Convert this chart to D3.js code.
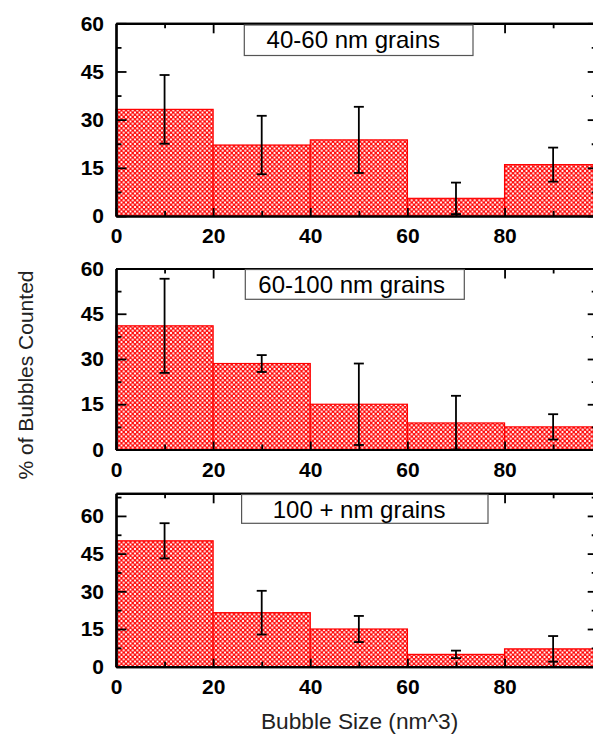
<!DOCTYPE html>
<html>
<head>
<meta charset="utf-8">
<script src="https://cdn.jsdelivr.net/npm/d3@7"></script>
<style>
  html, body { margin: 0; padding: 0; background: #fff; }
  svg { display: block; }
  text { font-family: "Liberation Sans", Arial, sans-serif; }
</style>
</head>
<body>
<svg id="chart" width="593" height="739"></svg>
<script>
// ---------- data ----------
const binEdges = [0, 20, 40, 60, 80, 100];
const panelLabels = ["40-60 nm grains", "60-100 nm grains", "100 + nm grains"];
const values4060  = [33.2, 22.1, 23.7, 5.5, 16.0];
const errors4060  = [10.7, 9.1, 10.3, 4.9, 5.3];
const values60100 = [41.0, 28.5, 15.0, 8.8, 7.5];
const errors60100 = [15.6, 2.8, 13.5, 9.0, 4.2];
const values100p  = [50.1, 21.5, 15.0, 4.9, 7.1];
const errors100p  = [7.0, 8.7, 5.2, 1.5, 5.1];
const yMaxes = [60, 60, 69];
const yMajorTicks = [0, 15, 30, 45, 60];
const xMajorTicks = [0, 20, 40, 60, 80];
const xTitle = "Bubble Size (nm^3)";
const yTitle = "% of Bubbles Counted";

// ---------- layout ----------
const xLeft = 116, xRight = 601.7;
const panelsLayout = [
  { top: 23.3, bottom: 216,   box: [244.3, 25, 473, 55.5],  textX: 266.6 },
  { top: 268.5, bottom: 449.5, box: [245.3, 269.5, 464.3, 299.3], textX: 258.3 },
  { top: 493.3, bottom: 666.7, box: [241.6, 494.5, 488, 523.3], textX: 272.7 }
];
const seriesValues = [values4060, values60100, values100p];
const seriesErrors = [errors4060, errors60100, errors100p];

const svg = d3.select("#chart");
svg.append("rect").attr("width", 593).attr("height", 739).attr("fill", "#fff");

// hatch pattern (red crosshatch leaving white dots)
const T = 4.5;
const defs = svg.append("defs");
const pat = defs.append("pattern").attr("id", "hatch")
  .attr("width", T).attr("height", T).attr("patternUnits", "userSpaceOnUse");
pat.append("rect").attr("width", T).attr("height", T).attr("fill", "#ff0000");
[[0,0],[T,0],[0,T],[T,T],[T/2,T/2]].forEach(([cx, cy]) =>
  pat.append("circle").attr("cx", cx).attr("cy", cy).attr("r", 1.1).attr("fill", "#fff"));

const x = d3.scaleLinear().domain([0, 100]).range([xLeft, xRight]);

function minorTicks(max, step, start) {
  const out = [];
  for (let v = start; v < max - 0.01; v += step) out.push(v);
  return out;
}

panelsLayout.forEach((L, i) => {
  const y = d3.scaleLinear().domain([0, yMaxes[i]]).range([L.bottom, L.top]);
  const g = svg.append("g");
  const vals = seriesValues[i], errs = seriesErrors[i];
  const bins = vals.map((v, k) => ({ x0: binEdges[k], x1: binEdges[k + 1], v, e: errs[k] }));

  // bars
  g.selectAll("rect.bar").data(bins).join("rect")
    .attr("class", "bar")
    .attr("x", d => x(d.x0))
    .attr("y", d => y(d.v))
    .attr("width", d => x(d.x1) - x(d.x0))
    .attr("height", d => y(0) - y(d.v))
    .attr("fill", "url(#hatch)")
    .attr("stroke", "#ff0000")
    .attr("stroke-width", 1.2);

  // error bars
  const eb = g.selectAll("g.err").data(bins).join("g").attr("class", "err")
    .attr("stroke", "#000").attr("stroke-width", 1.8);
  const lo = d => y(Math.max(0, d.v - d.e));
  const hi = d => y(d.v + d.e);
  const cx = d => x((d.x0 + d.x1) / 2);
  eb.append("line").attr("x1", cx).attr("x2", cx).attr("y1", lo).attr("y2", hi);
  eb.append("line").attr("x1", d => cx(d) - 5).attr("x2", d => cx(d) + 5).attr("y1", hi).attr("y2", hi);
  eb.append("line").attr("x1", d => cx(d) - 5).attr("x2", d => cx(d) + 5).attr("y1", lo).attr("y2", lo);

  const styleAxis = sel => {
    sel.selectAll("path.domain").attr("stroke", "#000").attr("stroke-width", 2.2);
    sel.selectAll(".tick line").attr("stroke", "#000").attr("stroke-width", 1.8);
    sel.selectAll("text").attr("font-size", 21).attr("font-weight", "bold").attr("fill", "#000")
      .attr("font-family", "'Liberation Sans', Arial, sans-serif");
  };

  const yMinor = minorTicks(yMaxes[i], 15, 7.5);
  const xMinor = [10, 30, 50, 70, 90];

  // left axis
  g.append("g").attr("transform", `translate(${xLeft},0)`)
    .call(d3.axisLeft(y).tickValues(yMinor).tickSizeInner(-5.5).tickSizeOuter(0).tickFormat(""))
    .call(styleAxis);
  g.append("g").attr("transform", `translate(${xLeft},0)`)
    .call(d3.axisLeft(y).tickValues(yMajorTicks).tickSizeInner(-10.5).tickSizeOuter(0).tickPadding(12))
    .call(styleAxis);

  // right axis (inward ticks)
  g.append("g").attr("transform", `translate(${xRight},0)`)
    .call(d3.axisRight(y).tickValues(yMinor).tickSizeInner(-10).tickSizeOuter(0).tickFormat(""))
    .call(styleAxis);
  g.append("g").attr("transform", `translate(${xRight},0)`)
    .call(d3.axisRight(y).tickValues(yMajorTicks).tickSizeInner(-14).tickSizeOuter(0).tickFormat(""))
    .call(styleAxis);

  // top axis
  g.append("g").attr("transform", `translate(0,${L.top})`)
    .call(d3.axisTop(x).tickValues(xMinor).tickSizeInner(-5).tickSizeOuter(0).tickFormat(""))
    .call(styleAxis);
  g.append("g").attr("transform", `translate(0,${L.top})`)
    .call(d3.axisTop(x).tickValues([20, 40, 60, 80]).tickSizeInner(-10).tickSizeOuter(0).tickFormat(""))
    .call(styleAxis);

  // bottom axis
  g.append("g").attr("transform", `translate(0,${L.bottom})`)
    .call(d3.axisBottom(x).tickValues(xMinor).tickSizeInner(-5).tickSizeOuter(0).tickFormat(""))
    .call(styleAxis);
  g.append("g").attr("transform", `translate(0,${L.bottom})`)
    .call(d3.axisBottom(x).tickValues(xMajorTicks).tickSizeInner(-8).tickSizeOuter(0).tickPadding(12.5))
    .call(styleAxis);

  // legend box
  const [bx0, by0, bx1, by1] = L.box;
  g.append("rect").attr("x", bx0).attr("y", by0).attr("width", bx1 - bx0).attr("height", by1 - by0)
    .attr("fill", "#fff").attr("stroke", "#555").attr("stroke-width", 1.2);
  g.append("text").attr("x", L.textX).attr("y", by0 + 23)
    .attr("font-size", 24).attr("fill", "#000").text(panelLabels[i]);
});

// axis titles
svg.append("text").attr("x", 359.6).attr("y", 728.5).attr("text-anchor", "middle")
  .attr("font-size", 22.7).attr("fill", "#222").text(xTitle);
svg.append("text").attr("transform", "translate(32.5,375) rotate(-90)").attr("text-anchor", "middle")
  .attr("font-size", 21).attr("fill", "#222").text(yTitle);
</script>
</body>
</html>
